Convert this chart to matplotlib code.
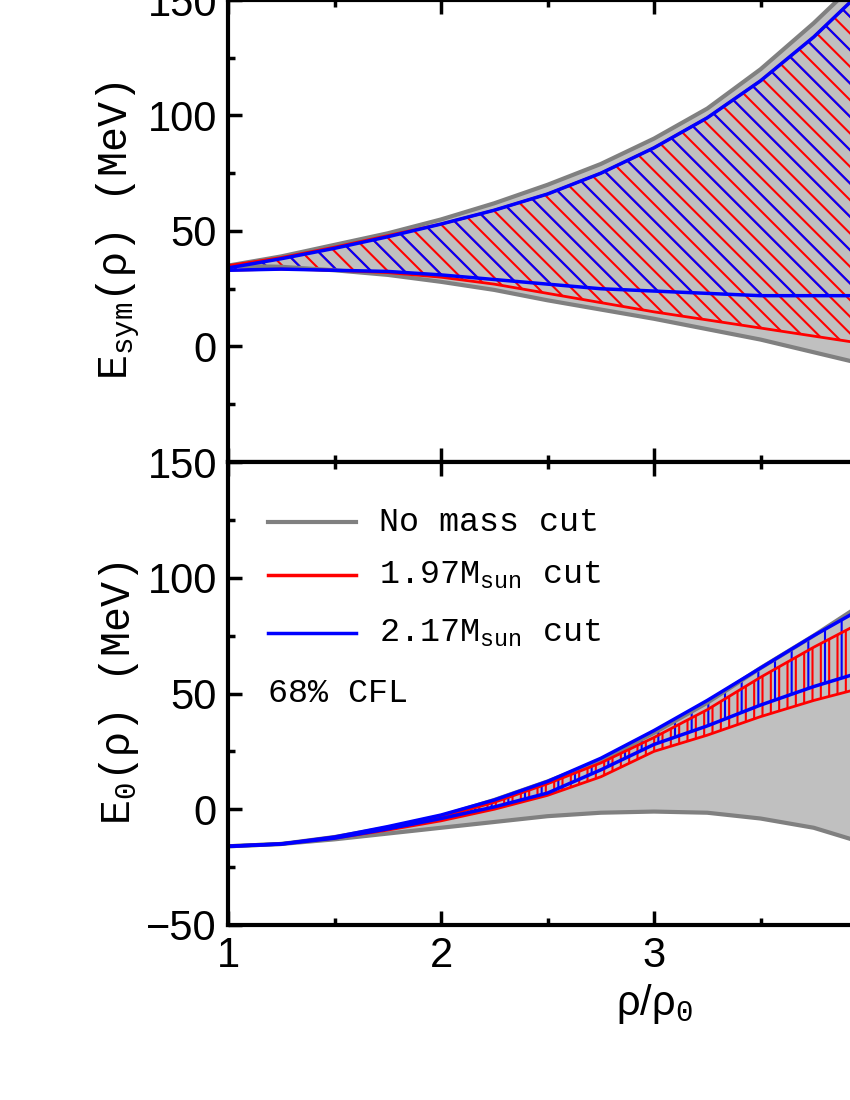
import matplotlib
matplotlib.use("Agg")
import matplotlib.pyplot as plt
from matplotlib.ticker import MultipleLocator

rho = [1.0,1.25,1.5,1.75,2.0,2.25,2.5,2.75,3.0,3.25,3.5,3.75,4.0,4.25]
esym_gray_up = [35,39,44,49,55,62,70,79,90,103,120,140,162,188]
esym_gray_lo = [35,34.5,33,31,28,24.5,20,16,12,7.5,3,-2.5,-8,-14]
esym_red_up = [35,38.5,43,48,53,59,66,75,86,99,115,134,156,180]
esym_red_lo = [33,33.5,33,32,30,27,23,19,15,11.5,8,4.5,1,-2]
esym_blue_up = [34,38,42.5,47.5,53,59,66,75,86,99,115,134,156,180]
esym_blue_lo = [33,33.5,33,32.5,31,29,27,25,24,23,22,22,22,22.5]
e0_gray_up = [-16,-15,-12,-8,-3,4,12,21,33,46,61,75,90,106]
e0_gray_lo = [-16,-15,-13,-10.5,-8,-5.5,-3,-1.5,-1,-1.5,-4,-8,-15,-23]
e0_red_up = [-16,-15,-12,-8,-3.5,3,11,20,31,43,57,70,82,95]
e0_red_lo = [-16,-15,-12.5,-9,-5,0,6,14,25,32,40,47,53,59]
e0_blue_up = [-16,-15,-12,-7.5,-2.5,4,12,22,34,47,61,75,88,101]
e0_blue_lo = [-16,-15,-12.5,-8.5,-4,1,7,17,28,36,45,53,60,67]

plt.rcParams['hatch.linewidth'] = 1.5
plt.rcParams['font.family'] = 'Liberation Sans'
plt.rcParams['mathtext.fontset'] = 'custom'
plt.rcParams['mathtext.rm'] = 'Liberation Mono'
fig = plt.figure(figsize=(8.5, 11), dpi=100)
left = 228/850; width = (1080-228)/850
ax1 = fig.add_axes([left, 1-462/1100, width, 462/1100])
ax2 = fig.add_axes([left, 1-925/1100, width, 463/1100])

def draw(ax, gu, gl, ru, rl, bu, bl, h_red, h_blue):
    ax.fill_between(rho, gl, gu, color='#c0c0c0', lw=0)
    ax.plot(rho, gu, color='gray', lw=3)
    ax.plot(rho, gl, color='gray', lw=3)
    ax.fill_between(rho, rl, ru, facecolor='none', edgecolor='red', hatch=h_red, lw=0)
    ax.fill_between(rho, bl, bu, facecolor='none', edgecolor='blue', hatch=h_blue, lw=0)
    ax.plot(rho, ru, color='red', lw=2)
    ax.plot(rho, rl, color='red', lw=2)
    ax.plot(rho, bu, color='blue', lw=2.5)
    ax.plot(rho, bl, color='blue', lw=2.5)

draw(ax1, esym_gray_up, esym_gray_lo, esym_red_up, esym_red_lo, esym_blue_up, esym_blue_lo, '\\\\', '\\')
draw(ax2, e0_gray_up, e0_gray_lo, e0_red_up, e0_red_lo, e0_blue_up, e0_blue_lo, '||', '|')

for ax in (ax1, ax2):
    ax.set_xlim(1, 5)
    ax.set_ylim(-50, 150)
    ax.xaxis.set_major_locator(MultipleLocator(1))
    ax.xaxis.set_minor_locator(MultipleLocator(0.5))
    ax.yaxis.set_major_locator(MultipleLocator(50))
    ax.yaxis.set_minor_locator(MultipleLocator(25))
    ax.tick_params(which='both', direction='in', top=True, right=True, labelsize=30, width=2.5, pad=8)
    ax.tick_params(which='major', length=10)
    ax.tick_params(which='minor', length=5)
    for s in ax.spines.values():
        s.set_linewidth(3)

ax1.set_yticks([0, 50, 100, 150])
ax1.tick_params(labelbottom=False)
ax2.set_xticks([1, 2, 3, 4])
ax1.set_xticks([1, 2, 3, 4, 5])
ax1.set_ylabel(r'E$_{\rm sym}$(ρ) (MeV)', fontsize=30, family='Liberation Mono')
ax2.set_ylabel(r'E$_{\rm 0}$(ρ) (MeV)', fontsize=30, family='Liberation Mono')
ax2.set_xlabel('ρ/ρ$_{\\rm 0}$', fontsize=30)

lx = [1.19, 1.6]
ax2.plot(lx, [124, 124], color='gray', lw=3)
ax2.plot(lx, [101, 101], color='red', lw=2.5)
ax2.plot(lx, [76, 76], color='blue', lw=2.5)
kw = dict(fontsize=24, family='Liberation Mono', va='center')
ax2.text(1.71, 124, 'No mass cut', **kw)
ax2.text(1.71, 101, r'1.97M$_{\rm sun}$ cut', **kw)
ax2.text(1.71, 76, r'2.17M$_{\rm sun}$ cut', **kw)
ax2.text(1.19, 50, '68% CFL', **kw)

fig.savefig('out.png', dpi=100)
